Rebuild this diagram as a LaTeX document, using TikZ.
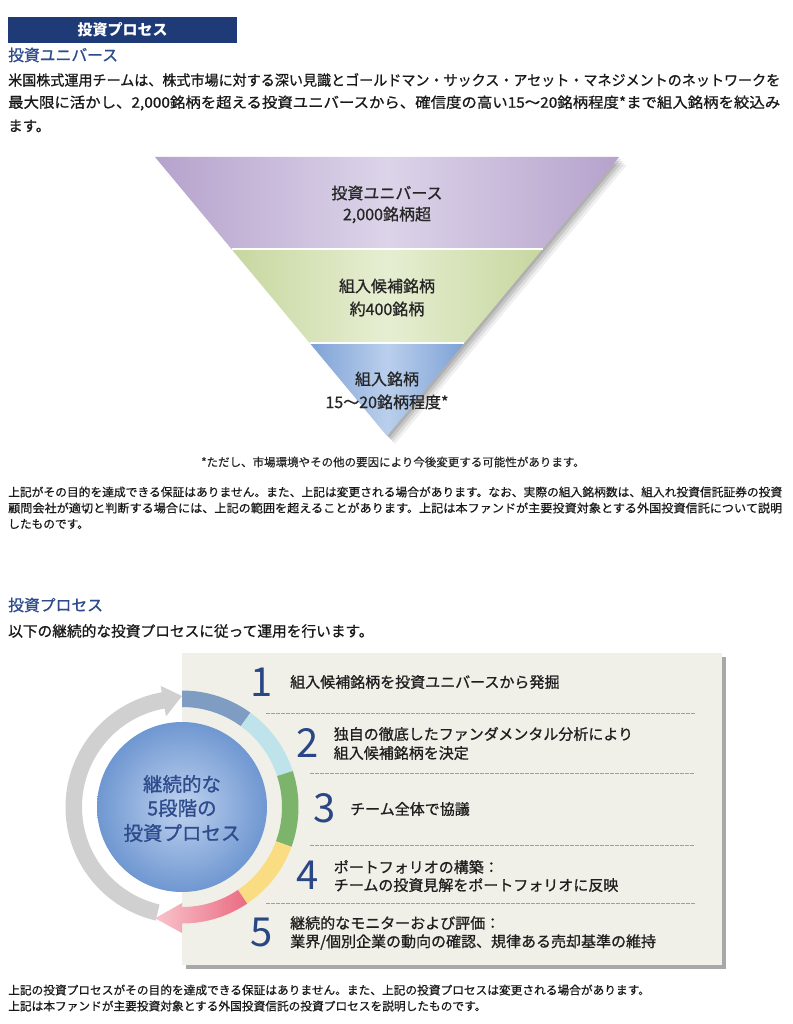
\documentclass[tikz,border=0pt]{standalone}
\usepackage{fontspec}
\usepackage{graphicx}
\setmainfont{Noto Sans CJK JP}
\newfontfamily\jpm{Noto Sans CJK JP}[FakeBold=0.9]
\newfontfamily\jpn{Noto Sans CJK JP}[FakeBold=0.5]
\definecolor{navy}{HTML}{1F3B77}
\definecolor{headblue}{HTML}{2D4B8B}
\definecolor{numblue}{HTML}{2A4785}
\definecolor{cblue}{HTML}{2E4C8C}
\definecolor{panelbg}{HTML}{F1F0E8}
\definecolor{panelsh}{HTML}{A8A8A8}
\definecolor{segA}{HTML}{7F9CC3}
\definecolor{segB}{HTML}{BEE3EB}
\definecolor{segC}{HTML}{7DB46B}
\definecolor{segD}{HTML}{FADC82}
\definecolor{pinkD}{HTML}{EA6B82}
\definecolor{pinkL}{HTML}{F8C4CC}
\definecolor{ringgray}{HTML}{D0D0D0}
\definecolor{circIn}{HTML}{BFD2EF}
\definecolor{circOut}{HTML}{6F97D1}
\definecolor{purE}{HTML}{B6A2CC}
\definecolor{purM}{HTML}{DCD4E9}
\definecolor{grnE}{HTML}{C7D79F}
\definecolor{grnM}{HTML}{E6EED2}
\definecolor{bluE}{HTML}{7EA2D6}
\definecolor{bluM}{HTML}{BACFEC}
\newcommand\annseg[3]{%
  \fill[#1] (#2:100pt) arc[start angle=#2,end angle=#3,radius=100pt]
    -- (#3:116.5pt) arc[start angle=#3,end angle=#2,radius=116.5pt] -- cycle;}
\tikzset{
  lt/.style={inner sep=0pt, anchor=west},
  body/.style={lt, text=black!90, font=\jpm\fontsize{14.5}{17}\selectfont},
  smalltxt/.style={lt, text=black!90, font=\jpn\fontsize{11.7}{14}\selectfont},
  headtxt/.style={lt, text=headblue, font=\jpm\fontsize{15.8}{18}\selectfont},
  ftxt/.style={inner sep=0pt, text=black!85, font=\jpm\fontsize{16}{19}\selectfont},
  steptxt/.style={lt, text=black!88, font=\jpm\fontsize{15}{18}\selectfont},
  stepnum/.style={inner sep=0pt, text=numblue, font=\fontsize{40}{44}\selectfont},
  ctxt/.style={inner sep=0pt, text=cblue, font=\jpm\fontsize{19.5}{22}\selectfont},
  sepline/.style={draw=gray!75, line width=0.6pt, dash pattern=on 4pt off 1pt},
}
\begin{document}
\begin{tikzpicture}[x=1pt,y=1pt]
\useasboundingbox (0,0) rectangle (792,-1024);
\fill[white] (0,0) rectangle (792,-1024);

% ---------- header ----------
\fill[navy] (8,-17) rectangle (237,-43);
\node[inner sep=0pt, text=white, font=\fontsize{15}{18}\selectfont\bfseries] (hdr) at (122.5,-30) {投資プロセス};
\node[headtxt] (h1) at (8,-55) {投資ユニバース};
\node[body] (b1) at (8,-80) {\resizebox{772pt}{\height}{米国株式運用チームは、株式市場に対する深い見識とゴールドマン・サックス・アセット・マネジメントのネットワークを}};
\node[body] (b2) at (8,-103) {\resizebox{772pt}{\height}{最大限に活かし、2,000銘柄を超える投資ユニバースから、確信度の高い15～20銘柄程度*まで組入銘柄を絞込み}};
\node[body] (b3) at (8,-126) {ます。};

% ---------- funnel ----------
\foreach \d/\o in {2/0.10,4/0.10,6/0.08,8/0.06}{
  \fill[black, opacity=\o] (155+\d,-157-\d) -- (619+\d,-157-\d) -- (387+\d,-436-\d) -- cycle;
}
\shade[left color=purE, right color=purE, middle color=purM]
  (155,-157) -- (619,-157) -- (542.5,-249) -- (231.5,-249) -- cycle;
\shade[left color=grnE, right color=grnE, middle color=grnM]
  (231.5,-249) -- (542.5,-249) -- (464.3,-343) -- (309.7,-343) -- cycle;
\shade[left color=bluE, right color=bluE, middle color=bluM]
  (309.7,-343) -- (464.3,-343) -- (387,-436) -- cycle;
\draw[white, line width=1.5pt] (231.5,-249) -- (542.5,-249);
\draw[white, line width=1.5pt] (309.7,-343) -- (464.3,-343);
\node[ftxt] (f1a) at (387,-193) {投資ユニバース};
\node[ftxt] (f1b) at (387,-215) {2,000銘柄超};
\node[ftxt] (f2a) at (387,-286) {組入候補銘柄};
\node[ftxt] (f2b) at (387,-309) {約400銘柄};
\node[ftxt] (f3a) at (387,-379) {組入銘柄};
\node[ftxt] (f3b) at (387,-402) {15～20銘柄程度*};
\node[inner sep=0pt, text=black!85, font=\jpn\fontsize{11.5}{14}\selectfont] (fn) at (393,-462) {*ただし、市場環境やその他の要因により今後変更する可能性があります。};

% ---------- disclaimer ----------
\node[smalltxt] (d1) at (8,-492) {\resizebox{774pt}{\height}{上記がその目的を達成できる保証はありません。また、上記は変更される場合があります。なお、実際の組入銘柄数は、組入れ投資信託証券の投資}};
\node[smalltxt] (d2) at (8,-508) {\resizebox{774pt}{\height}{顧問会社が適切と判断する場合には、上記の範囲を超えることがあります。上記は本ファンドが主要投資対象とする外国投資信託について説明}};
\node[smalltxt] (d3) at (8,-524) {したものです。};

% ---------- section 2 ----------
\node[headtxt] (h2) at (8,-605) {投資プロセス};
\node[lt, text=black!90, font=\jpm\fontsize{14.7}{17}\selectfont] (b4) at (8,-631) {以下の継続的な投資プロセスに従って運用を行います。};

% panel
\fill[panelsh] (186,-657) rectangle (726,-969);
\fill[panelbg] (182,-653) rectangle (722,-965);
\draw[sepline] (266,-713) -- (695,-713);
\draw[sepline] (310,-773) -- (695,-773);
\draw[sepline] (310,-845) -- (695,-845);
\draw[sepline] (266,-903) -- (695,-903);

% ring
\begin{scope}[shift={(182,-807)}]
  \fill[ringgray] (257:116.5pt) arc[start angle=257,end angle=100,radius=116.5pt]
    -- (100:123pt) -- (90:111pt) -- (100:92pt) -- (100:100pt)
    arc[start angle=100,end angle=257,radius=100pt] -- cycle;
  \annseg{segA}{90}{54}
  \annseg{segB}{54}{18}
  \annseg{segC}{18}{-20}
  \annseg{segD}{-20}{-56}
  \shade[left color=pinkL, right color=pinkD]
    (-56:116.5pt) arc[start angle=-56,end angle=-90,radius=116.5pt]
    -- (-90:126pt) -- (-103.6:114.5pt) -- (-90:96pt) -- (-90:100pt)
    arc[start angle=-90,end angle=-56,radius=100pt] -- cycle;
  \shade[inner color=circIn, outer color=circOut] (0,0) circle[radius=85pt];
\end{scope}
\node[ctxt] (c1) at (182,-784) {継続的な};
\node[ctxt] (c2) at (182,-808) {5段階の};
\node[ctxt] (c3) at (182,-833) {投資プロセス};

% steps
\node[stepnum] (n1) at (262,-682) {1};
\node[steptxt] (s1) at (290,-682) {組入候補銘柄を投資ユニバースから発掘};
\node[stepnum] (n2) at (307.5,-743) {2};
\node[steptxt] (s2a) at (333.6,-734) {独自の徹底したファンダメンタル分析により};
\node[steptxt] (s2b) at (333.6,-753) {組入候補銘柄を決定};
\node[stepnum] (n3) at (324.5,-808) {3};
\node[steptxt] (s3) at (350,-809) {チーム全体で協議};
\node[stepnum] (n4) at (307.5,-875) {4};
\node[steptxt] (s4a) at (333.6,-867) {ポートフォリオの構築：};
\node[steptxt] (s4b) at (333.6,-885) {チームの投資見解をポートフォリオに反映};
\node[stepnum] (n5) at (262,-932) {5};
\node[steptxt] (s5a) at (290,-923) {継続的なモニターおよび評価：};
\node[steptxt] (s5b) at (290,-942) {業界/個別企業の動向の確認、規律ある売却基準の維持};

% footer
\node[smalltxt] (e1) at (8,-990) {上記の投資プロセスがその目的を達成できる保証はありません。また、上記の投資プロセスは変更される場合があります。};
\node[smalltxt] (e2) at (8,-1006) {上記は本ファンドが主要投資対象とする外国投資信託の投資プロセスを説明したものです。};
\end{tikzpicture}
\end{document}
